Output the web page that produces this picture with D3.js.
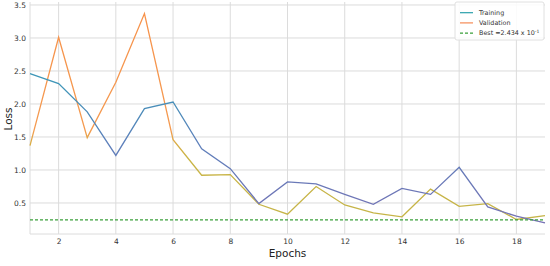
<!DOCTYPE html>
<html>
<head>
<meta charset="utf-8">
<script src="https://cdn.jsdelivr.net/npm/d3@7"></script>
<style>
  body { margin: 0; background: #fff; }
  svg text { font-family: "DejaVu Sans", sans-serif; }
</style>
</head>
<body>
<div id="chart"></div>
<script>
const epochs = [1, 2, 3, 4, 5, 6, 7, 8, 9, 10, 11, 12, 13, 14, 15, 16, 17, 18, 19];
const training = [2.46, 2.31, 1.88, 1.22, 1.93, 2.03, 1.32, 1.02, 0.49, 0.82, 0.79, 0.63, 0.48, 0.72, 0.63, 1.04, 0.44, 0.30, 0.20];
const validation = [1.37, 3.01, 1.49, 2.33, 3.37, 1.46, 0.92, 0.93, 0.48, 0.33, 0.75, 0.47, 0.35, 0.29, 0.71, 0.45, 0.49, 0.25, 0.31];
const best = 0.2434;
const xTicks = [2, 4, 6, 8, 10, 12, 14, 16, 18];
const yTicks = [0.5, 1.0, 1.5, 2.0, 2.5, 3.0, 3.5];

const width = 550, height = 266;
const margin = { top: 2, right: 5, bottom: 32, left: 30 };

const svg = d3.select("#chart").append("svg")
  .attr("width", width)
  .attr("height", height);

const x = d3.scaleLinear().domain([1, 19]).range([margin.left, width - margin.right]);
const y = d3.scaleLinear().domain([0.03, 3.545]).range([height - margin.bottom, margin.top]);

// grid
svg.append("g")
  .selectAll("line")
  .data(xTicks)
  .enter().append("line")
  .attr("x1", d => x(d)).attr("x2", d => x(d))
  .attr("y1", y.range()[0]).attr("y2", y.range()[1])
  .attr("stroke", "#dcdcdc").attr("stroke-width", 1);

svg.append("g")
  .selectAll("line")
  .data(yTicks)
  .enter().append("line")
  .attr("x1", x.range()[0]).attr("x2", x.range()[1])
  .attr("y1", d => y(d)).attr("y2", d => y(d))
  .attr("stroke", "#dcdcdc").attr("stroke-width", 1);

// light spines left + bottom
svg.append("line")
  .attr("x1", x.range()[0]).attr("x2", x.range()[0])
  .attr("y1", y.range()[0]).attr("y2", y.range()[1])
  .attr("stroke", "#dcdcdc");
svg.append("line")
  .attr("x1", x.range()[0]).attr("x2", x.range()[1])
  .attr("y1", y.range()[0]).attr("y2", y.range()[0])
  .attr("stroke", "#dcdcdc");

// axes, labels only
const xAxis = svg.append("g")
  .attr("transform", `translate(0,${y.range()[0]})`)
  .call(d3.axisBottom(x).tickValues(xTicks).tickSize(0).tickPadding(4.5).tickFormat(d3.format("d")));
const yAxis = svg.append("g")
  .attr("transform", `translate(${x.range()[0]},0)`)
  .call(d3.axisLeft(y).tickValues(yTicks).tickSize(0).tickPadding(4).tickFormat(d3.format(".1f")));
[xAxis, yAxis].forEach(a => {
  a.select(".domain").remove();
  a.selectAll("text").attr("fill", "#333").style("font-size", "7.5px");
});

// colour of each line shifts with its value
const defs = svg.append("defs");
function vGrad(id, stops) {
  const g = defs.append("linearGradient")
    .attr("id", id)
    .attr("gradientUnits", "userSpaceOnUse")
    .attr("x1", 0).attr("x2", 0)
    .attr("y1", y(3.5)).attr("y2", y(0));
  stops.forEach(s => g.append("stop").attr("offset", s[0]).attr("stop-color", s[1]));
}
vGrad("gTrain", [[0, "#2f9fb0"], [0.35, "#3f95b8"], [0.6, "#5e80bb"], [1, "#7a6fb3"]]);
vGrad("gVal", [[0, "#f7914a"], [0.54, "#f49a50"], [0.6, "#d9ad45"], [0.66, "#c9b446"], [1, "#c4b448"]]);

const line = d3.line().x((d, i) => x(epochs[i])).y(d => y(d));

svg.append("path")
  .datum(validation)
  .attr("d", line)
  .attr("fill", "none")
  .attr("stroke", "url(#gVal)")
  .attr("stroke-width", 1.3);

svg.append("path")
  .datum(training)
  .attr("d", line)
  .attr("fill", "none")
  .attr("stroke", "url(#gTrain)")
  .attr("stroke-width", 1.3);

svg.append("line")
  .attr("x1", x.range()[0]).attr("x2", x.range()[1])
  .attr("y1", y(best)).attr("y2", y(best))
  .attr("stroke", "#3aa03a")
  .attr("stroke-width", 1.1)
  .attr("stroke-dasharray", "3,2");

// axis titles
svg.append("text")
  .attr("x", (x.range()[0] + x.range()[1]) / 2)
  .attr("y", 257)
  .attr("text-anchor", "middle")
  .style("font-size", "10.5px")
  .attr("fill", "#222")
  .text("Epochs");

svg.append("text")
  .attr("transform", "translate(12,119) rotate(-90)")
  .attr("text-anchor", "middle")
  .style("font-size", "10.5px")
  .attr("fill", "#222")
  .text("Loss");

// legend
const legend = svg.append("g").attr("transform", "translate(455,2)");
legend.append("rect")
  .attr("width", 89).attr("height", 38)
  .attr("rx", 2)
  .attr("fill", "#fff").attr("fill-opacity", 0.85)
  .attr("stroke", "#e0e0e0");

const items = [
  { label: "Training", color: "#2aa0ab", dash: null },
  { label: "Validation", color: "#f58a55", dash: null },
  { label: "Best =2.434 x 10", color: "#3aa03a", dash: "3,2", sup: "-1" }
];
items.forEach((it, i) => {
  const gy = 10.7 + i * 10.2;
  legend.append("line")
    .attr("x1", 5).attr("x2", 18)
    .attr("y1", gy).attr("y2", gy)
    .attr("stroke", it.color).attr("stroke-width", 1.2)
    .attr("stroke-dasharray", it.dash);
  const t = legend.append("text")
    .attr("x", 24).attr("y", gy + 2.3)
    .style("font-size", "6.4px")
    .attr("fill", "#333")
    .text(it.label);
  if (it.sup) {
    t.append("tspan").attr("dy", -2.5).style("font-size", "4.5px").text(it.sup);
  }
});
</script>
</body>
</html>
